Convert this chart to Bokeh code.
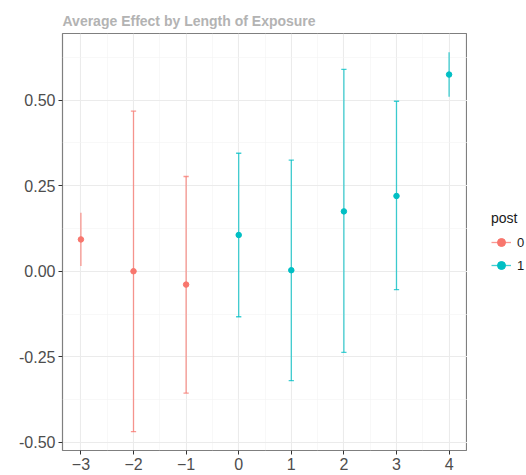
from bokeh.plotting import figure
from bokeh.layouts import row
from bokeh.models import (ColumnDataSource, Legend, LegendItem, FixedTicker,
                          Range1d, CustomJSTickFormatter)
from bokeh.embed import file_html
from bokeh.resources import INLINE

# Event-time estimates with confidence intervals
period = [-3, -2, -1, 0, 1, 2, 3, 4]
estimate = [0.093, 0.000, -0.039, 0.106, 0.003, 0.175, 0.220, 0.575]
ci_low = [0.015, -0.469, -0.356, -0.133, -0.320, -0.237, -0.054, 0.510]
ci_high = [0.171, 0.468, 0.277, 0.345, 0.325, 0.590, 0.497, 0.640]
post = ["0", "0", "0", "1", "1", "1", "1", "1"]
# end points carry no whisker caps
has_cap = [False, True, True, True, True, True, True, False]

x_ticks = [-3, -2, -1, 0, 1, 2, 3, 4]
y_ticks = [-0.5, -0.25, 0.0, 0.25, 0.5]

colors = {"0": "#F8766D", "1": "#00BFC4"}
cap_half = 0.05
FONT = "Liberation Sans"

p = figure(width=467, height=475, output_backend="svg", toolbar_location=None,
           x_range=Range1d(-3.35, 4.35), y_range=Range1d(-0.524, 0.695),
           min_border_left=62, min_border_right=0, min_border_top=33,
           min_border_bottom=25)

p.title.text = "Average Effect by Length of Exposure"
p.title.text_font = FONT
p.title.text_font_size = "14px"
p.title.text_font_style = "bold"
p.title.text_color = "#b3b3b3"
p.title.offset = 0
p.title.standoff = 10

p.background_fill_color = "white"
p.border_fill_color = "white"
p.outline_line_color = "#7f7f7f"
p.outline_line_width = 1.2

for ax, ticks in ((p.xaxis, x_ticks), (p.yaxis, y_ticks)):
    ax.ticker = FixedTicker(ticks=ticks, minor_ticks=[])
    ax.axis_line_color = None
    ax.major_tick_line_color = "#333333"
    ax.major_tick_out = 4
    ax.major_tick_in = 0
    ax.minor_tick_line_color = None
    ax.major_label_text_font = FONT
    ax.major_label_text_font_size = "16px"
    ax.major_label_text_color = "#4d4d4d"
    ax.major_label_standoff = 3
p.yaxis.formatter = CustomJSTickFormatter(code="return tick.toFixed(2)")

# grid: majors on ticks, minors halfway
x_minor = [-2.5, -1.5, -0.5, 0.5, 1.5, 2.5, 3.5]
y_minor = [-0.375, -0.125, 0.125, 0.375, 0.625]
p.xgrid.ticker = FixedTicker(ticks=x_ticks, minor_ticks=x_minor)
p.ygrid.ticker = FixedTicker(ticks=y_ticks, minor_ticks=y_minor)
for g in (p.xgrid, p.ygrid):
    g.grid_line_color = "#ebebeb"
    g.grid_line_width = 1.1
    g.minor_grid_line_color = "#f4f4f4"
    g.minor_grid_line_width = 0.6

# side panel holding the legend
lg = figure(width=59, height=475, output_backend="svg", toolbar_location=None,
            x_range=Range1d(0, 1), y_range=Range1d(0, 1),
            x_axis_type=None, y_axis_type=None,
            min_border=0, outline_line_color=None)
lg.xgrid.visible = False
lg.ygrid.visible = False

items = []
for grp in ["0", "1"]:
    idx = [i for i, g in enumerate(post) if g == grp]
    src = ColumnDataSource(dict(
        x=[period[i] for i in idx],
        y=[estimate[i] for i in idx],
        lo=[ci_low[i] for i in idx],
        hi=[ci_high[i] for i in idx],
    ))
    cidx = [i for i in idx if has_cap[i]]
    caps = ColumnDataSource(dict(
        x0=[period[i] - cap_half for i in cidx] * 2,
        x1=[period[i] + cap_half for i in cidx] * 2,
        y=[ci_low[i] for i in cidx] + [ci_high[i] for i in cidx],
    ))
    c = colors[grp]
    p.segment(x0="x", y0="lo", x1="x", y1="hi", source=src,
              line_color=c, line_width=1.3, line_alpha=0.75)
    p.segment(x0="x0", y0="y", x1="x1", y1="y", source=caps,
              line_color=c, line_width=1.3, line_alpha=0.75)
    p.scatter(x="x", y="y", source=src, size=5.5, fill_color=c,
              line_color=c, marker="circle")

    # legend key: line with a dot; the key glyphs sit outside the panel range
    key = ColumnDataSource(dict(x=[-5], y=[-5], lo=[-5], hi=[-4]))
    kb = lg.segment(x0="x", y0="lo", x1="x", y1="hi", source=key,
                    line_color=c, line_width=1.3, line_alpha=0.75)
    kp = lg.scatter(x="x", y="y", source=key, size=5, fill_color=c,
                    line_color=c, marker="circle")
    items.append(LegendItem(label=grp, renderers=[kb, kp], index=0))

legend = Legend(items=items, location=(24, 175), title="post",
                title_text_font=FONT, title_text_font_size="14px",
                title_text_font_style="normal",
                title_text_color="#1a1a1a", title_standoff=6,
                label_text_font=FONT, label_text_font_size="13px",
                label_text_color="#1a1a1a",
                glyph_width=20, glyph_height=20, label_standoff=6,
                spacing=3, padding=0, margin=0,
                border_line_color=None, background_fill_alpha=0)
lg.add_layout(legend, "center")

layout = row(p, lg, spacing=0)
open("out.html", "w").write(file_html(layout, INLINE))
